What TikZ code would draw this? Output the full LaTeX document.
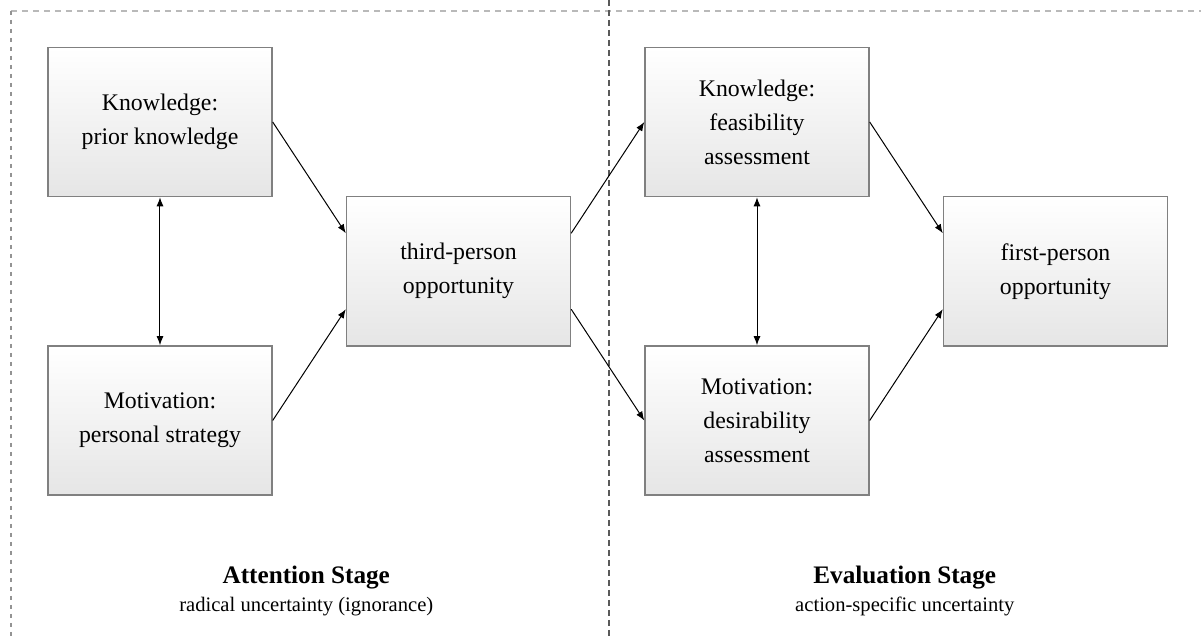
\documentclass[tikz,border=0pt]{standalone}
\usepackage{fontspec}
\setmainfont{Liberation Serif}
\usepackage{xcolor}
\usetikzlibrary{arrows.meta, positioning}

\tikzset{
  stagebox/.style={draw=gray, line width=0.7pt, top color=white, bottom color=gray!20,
    minimum width=112pt, minimum height=74.6pt, align=center,
    font=\fontsize{11.9}{17}\selectfont},
  link/.style={-{Latex[length=4.5pt, width=3.5pt]}, line width=0.5pt},
  twolink/.style={{Latex[length=4.5pt, width=3.5pt]}-{Latex[length=4.5pt, width=3.5pt]}, line width=0.5pt},
  stagetitle/.style={anchor=base, font=\fontsize{12.6}{14}\selectfont\bfseries},
  stagenote/.style={anchor=base, font=\fontsize{10.3}{12}\selectfont}
}

\begin{document}
\begin{tikzpicture}[x=74.625pt, y=74.625pt]
  \useasboundingbox (-80pt,61pt) rectangle (520.5pt,-259pt);

  % Stage frame
  \draw[gray!55, line width=0.6pt, dash pattern=on 3pt off 2.5pt] (-74.5pt,55.5pt) -- (520.5pt,55.5pt);
  \draw[gray!85, line width=1pt, dash pattern=on 2pt off 2.5pt] (-74.5pt,55.5pt) -- (-74.5pt,-259pt);
  \draw[black!65, line width=1pt, dash pattern=on 3pt off 2pt] (224.5pt,61pt) -- (224.5pt,-259pt);

  % Boxes
  \foreach \nm/\x/\y/\txt in {kp/0/0/{Knowledge:\\prior knowledge},
      mp/0/-2/{Motivation:\\personal strategy},
      tp/2/-1/{third-person\\opportunity},
      kf/4/0/{Knowledge:\\feasibility\\assessment},
      md/4/-2/{Motivation:\\desirability\\assessment},
      fp/6/-1/{first-person\\opportunity}}{
    \node[stagebox] (\nm) at (\x,\y) {\txt};
  }

  % Arrows
  \draw[link] (kp.east) -- ([yshift=19pt]tp.west);
  \draw[link] (mp.east) -- ([yshift=-19pt]tp.west);
  \draw[link] ([yshift=19pt]tp.east) -- (kf.west);
  \draw[link] ([yshift=-19pt]tp.east) -- (md.west);
  \draw[link] (kf.east) -- ([yshift=19pt]fp.west);
  \draw[link] (md.east) -- ([yshift=-19pt]fp.west);
  \draw[twolink] (kp) -- (mp);
  \draw[twolink] (kf) -- (md);

  % Stage labels
  \node[stagetitle] (att) at (0.98,-3.089) {Attention Stage};
  \node[stagenote] (attnote) at (0.98,-3.283) {radical uncertainty (ignorance)};
  \node[stagetitle] (eva) at (4.99,-3.089) {Evaluation Stage};
  \node[stagenote] (evanote) at (4.99,-3.283) {action-specific uncertainty};
\end{tikzpicture}
\end{document}
